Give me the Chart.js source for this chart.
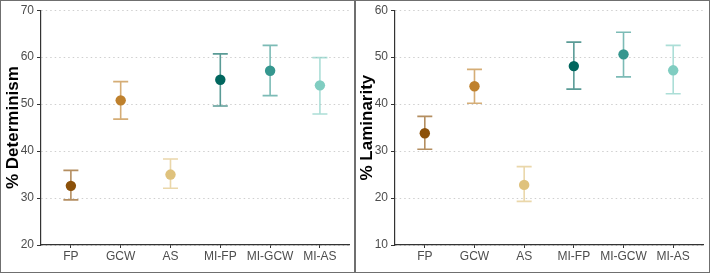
<!DOCTYPE html>
<html>
<head>
<meta charset="utf-8">
<script src="https://cdn.jsdelivr.net/npm/chart.js@4"></script>
<style>
  body { margin: 0; background: #fff; }
  #wrap { position: relative; width: 710px; height: 273px; overflow: hidden; }
  .frame { position: absolute; top: 0; height: 273px; border: 1px solid #6f6f6f; box-sizing: border-box; }
  canvas { position: absolute; top: 0; }
</style>
</head>
<body>
<div id="wrap">
  <div class="frame" style="left:0;width:356px"></div>
  <div class="frame" style="left:354px;width:356px"></div>
  <canvas id="detChart" width="355" height="273" style="left:0"></canvas>
  <canvas id="lamChart" width="356" height="273" style="left:354px"></canvas>
</div>
<script>
const groups = ['FP', 'GCW', 'AS', 'MI-FP', 'MI-GCW', 'MI-AS'];
const colors = ['#8c510a', '#bf812d', '#dfc27d', '#01665e', '#35978f', '#80cdc1'];

// % Determinism
const detMean = [32.6, 50.8, 35.0, 55.2, 57.1, 54.0];
const detLow  = [29.6, 46.8, 32.1, 49.6, 51.8, 47.9];
const detHigh = [35.9, 54.8, 38.3, 60.7, 62.5, 59.9];

// % Laminarity
const lamMean = [33.8, 43.8, 22.8, 48.1, 50.6, 47.2];
const lamLow  = [30.4, 40.2, 19.3, 43.2, 45.8, 42.2];
const lamHigh = [37.4, 47.4, 26.7, 53.2, 55.3, 52.5];

// error bars go under the points
const errorBars = {
    id: 'errorBars',
    beforeDatasetsDraw(chart, args, opts) {
        const { ctx, scales: { x, y } } = chart;
        ctx.save();
        ctx.lineWidth = 1.6;
        opts.low.forEach((lo, i) => {
            const px = x.getPixelForValue(i + 1);
            const yl = y.getPixelForValue(lo);
            const yh = y.getPixelForValue(opts.high[i]);
            ctx.strokeStyle = colors[i] + 'a6';
            ctx.beginPath();
            ctx.moveTo(px, yl); ctx.lineTo(px, yh);
            ctx.moveTo(px - 7.5, yl); ctx.lineTo(px + 7.5, yl);
            ctx.moveTo(px - 7.5, yh); ctx.lineTo(px + 7.5, yh);
            ctx.stroke();
        });
        ctx.restore();
    }
};

const createPanel = (canvasId, title, mean, low, high, yMin, yMax, rightPad) => {
    const ctx = document.getElementById(canvasId).getContext('2d');
    return new Chart(ctx, {
        type: 'scatter',
        data: {
            datasets: [{
                data: mean.map((v, i) => ({ x: i + 1, y: v })),
                pointBackgroundColor: colors,
                pointBorderWidth: 0,
                pointRadius: 5.2,
                pointHoverRadius: 5.2
            }]
        },
        plugins: [errorBars],
        options: {
            responsive: false,
            animation: false,
            layout: { padding: { top: 10, right: rightPad, bottom: 0, left: 0 } },
            plugins: {
                legend: { display: false },
                tooltip: { enabled: false },
                errorBars: { low, high }
            },
            scales: {
                x: {
                    type: 'linear',
                    min: 0.4,
                    max: 6.6,
                    afterBuildTicks: (scale) => { scale.ticks = groups.map((_, i) => ({ value: i + 1 })); },
                    afterFit: (scale) => { scale.height = 28; },
                    ticks: {
                        padding: 1,
                        color: '#4d4d4d',
                        font: { family: 'Liberation Sans, Arial', size: 12 },
                        callback: (v) => groups[v - 1]
                    },
                    grid: { drawOnChartArea: false, tickLength: 3, tickColor: '#333', tickWidth: 1 },
                    border: { color: '#333', width: 1.2 }
                },
                y: {
                    min: yMin,
                    max: yMax,
                    afterFit: (scale) => { scale.width = 41; },
                    ticks: {
                        stepSize: 10,
                        padding: 3,
                        color: '#4d4d4d',
                        font: { family: 'Liberation Sans, Arial', size: 12 }
                    },
                    grid: {
                        color: '#cfcfcf',
                        lineWidth: 1,
                        tickLength: 4,
                        tickColor: '#333',
                        tickBorderDash: []
                    },
                    border: { color: '#333', width: 1.2, dash: [1.5, 3] },
                    title: {
                        display: true,
                        text: title,
                        color: '#000',
                        font: { family: 'Liberation Sans, Arial', size: 17, weight: 'bold' },
                        padding: { top: 3, bottom: 0 }
                    }
                }
            }
        }
    });
};

createPanel('detChart', '% Determinism', detMean, detLow, detHigh, 20, 70, 5);
createPanel('lamChart', '% Laminarity', lamMean, lamLow, lamHigh, 10, 60, 7);
</script>
</body>
</html>
